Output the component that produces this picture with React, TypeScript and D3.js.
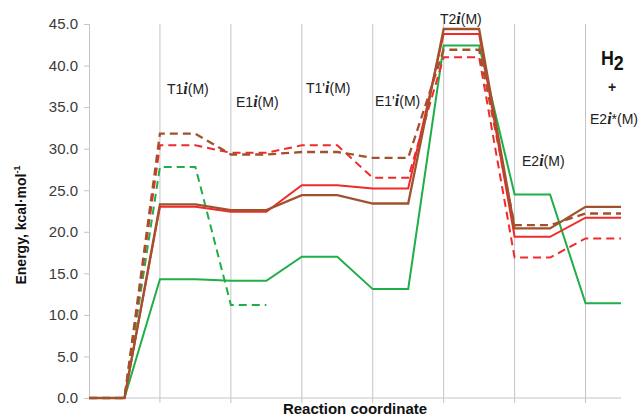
import * as d3 from 'd3';
import React, { useEffect, useRef } from 'react';

// reaction coordinate points (two per state: start / end of level)
const steps = [0, 1, 2, 3, 4, 5, 6, 7, 8, 9, 10, 11, 12, 13, 14, 15];
const yTicks = [0, 5, 10, 15, 20, 25, 30, 35, 40, 45];
const gridSteps = [2, 4, 6, 8, 10, 12, 14];

const brownSolid = [0, 0, 23.3, 23.3, 22.6, 22.6, 24.4, 24.4, 23.4, 23.4, 44.4, 44.4, 20.4, 20.4, 23.0, 23.0];
const redSolid = [0, 0, 23.0, 23.0, 22.4, 22.4, 25.6, 25.6, 25.2, 25.2, 43.8, 43.8, 19.4, 19.4, 21.7, 21.7];
const greenSolid = [0, 0, 14.3, 14.3, 14.1, 14.1, 17.0, 17.0, 13.1, 13.1, 42.4, 42.4, 24.5, 24.5, 11.4, 11.4];
const brownDashed = [0, 0, 31.8, 31.8, 29.3, 29.3, 29.6, 29.6, 28.9, 28.9, 41.9, 41.9, 20.8, 20.8, 22.2, 22.2];
const redDashed = [0, 0, 30.4, 30.4, 29.5, 29.5, 30.4, 30.4, 26.5, 26.5, 41.0, 41.0, 16.9, 16.9, 19.2, 19.2];
const greenDashed = [0, 0, 27.8, 27.8, 11.2, 11.2, null, null, null, null, null, null, null, null, null, null];

const series = [
  { name: 'greenSolid', values: greenSolid, color: '#1fae47', dash: null, width: 2 },
  { name: 'greenDashed', values: greenDashed, color: '#1fae47', dash: '8,5', width: 2 },
  { name: 'redDashed', values: redDashed, color: '#f02a2a', dash: '8,5', width: 2 },
  { name: 'brownDashed', values: brownDashed, color: '#a0522d', dash: '8,5', width: 2.3 },
  { name: 'redSolid', values: redSolid, color: '#f02a2a', dash: null, width: 2 },
  { name: 'brownSolid', values: brownSolid, color: '#a0522d', dash: null, width: 2.3 },
];

const stateLabels = [
  { pre: 'T1', post: '(M)', x: 167, y: 94 },
  { pre: 'E1', post: '(M)', x: 236, y: 107 },
  { pre: "T1'", post: '(M)', x: 306, y: 93 },
  { pre: "E1'", post: '(M)', x: 375, y: 106 },
  { pre: 'T2', post: '(M)', x: 440, y: 24 },
  { pre: 'E2', post: '(M)', x: 522, y: 166 },
  { pre: 'E2', post: '*(M)', x: 590, y: 124 },
];

const W = 641,
  H = 418;
const margin = { left: 89, right: 20, top: 24, bottom: 20 };

export default function App() {
  const ref = useRef<SVGSVGElement>(null);

  useEffect(() => {
    const svg = d3.select(ref.current);
    svg.selectAll('*').remove();

    const x = d3.scaleLinear().domain([0, 15]).range([margin.left, W - margin.right]);
    const y = d3.scaleLinear().domain([0, 45]).range([H - margin.bottom, margin.top]);
    const font = '"Liberation Sans", Arial, sans-serif';

    // vertical gridlines + x ticks
    svg
      .append('g')
      .selectAll('line')
      .data(gridSteps)
      .join('line')
      .attr('x1', (d) => x(d))
      .attr('x2', (d) => x(d))
      .attr('y1', y(45))
      .attr('y2', y(0) + 5)
      .attr('stroke', '#c4c4c4')
      .attr('stroke-width', 1);

    // y axis
    const yAxis = svg
      .append('g')
      .attr('transform', `translate(${x(0)},0)`)
      .call(d3.axisLeft(y).tickValues(yTicks).tickSize(5).tickPadding(6).tickFormat(d3.format('.1f')));
    yAxis.select('.domain').attr('stroke', '#c4c4c4');
    yAxis.selectAll('.tick line').attr('stroke', '#c4c4c4');
    yAxis
      .selectAll('.tick text')
      .attr('fill', '#3a3a3a')
      .attr('font-size', 15)
      .attr('font-family', font);

    // x axis line
    svg
      .append('line')
      .attr('x1', x(0))
      .attr('x2', x(15))
      .attr('y1', y(0))
      .attr('y2', y(0))
      .attr('stroke', '#c4c4c4');

    const line = d3
      .line<number | null>()
      .defined((d) => d !== null)
      .x((_, i) => x(steps[i]))
      .y((d) => y(d as number));

    svg
      .append('g')
      .selectAll('path')
      .data(series)
      .join('path')
      .attr('d', (s) => line(s.values))
      .attr('fill', 'none')
      .attr('stroke', (s) => s.color)
      .attr('stroke-width', (s) => s.width)
      .attr('stroke-dasharray', (s) => s.dash)
      .attr('stroke-linejoin', 'miter');

    // state labels
    const lbl = svg
      .append('g')
      .selectAll('text')
      .data(stateLabels)
      .join('text')
      .attr('x', (d) => d.x)
      .attr('y', (d) => d.y)
      .attr('font-size', 14)
      .attr('font-family', font)
      .attr('fill', '#222');
    lbl.append('tspan').text((d) => d.pre);
    lbl
      .append('tspan')
      .text('i')
      .attr('font-family', '"Liberation Serif", serif')
      .attr('font-style', 'italic')
      .attr('font-weight', 'bold')
      .attr('font-size', 16);
    lbl.append('tspan').text((d) => d.post);

    // H2 + label
    const h2 = svg
      .append('text')
      .attr('x', 601)
      .attr('y', 65)
      .attr('font-family', font)
      .attr('font-weight', 'bold')
      .attr('font-size', 21)
      .attr('fill', '#111')
      .attr('transform', 'translate(601,0) scale(0.85,1) translate(-601,0)');
    h2.append('tspan').text('H');
    h2.append('tspan').text('2').attr('dy', 5);
    svg
      .append('text')
      .attr('x', 612)
      .attr('y', 92)
      .attr('text-anchor', 'middle')
      .attr('font-family', font)
      .attr('font-size', 14)
      .attr('font-weight', 'bold')
      .attr('fill', '#222')
      .text('+');

    // axis titles
    svg
      .append('text')
      .attr('x', x(7.5))
      .attr('y', 414)
      .attr('text-anchor', 'middle')
      .attr('font-family', font)
      .attr('font-weight', 'bold')
      .attr('font-size', 15)
      .attr('fill', '#111')
      .text('Reaction coordinate');

    const yt = svg
      .append('text')
      .attr('transform', 'translate(26,225) rotate(-90)')
      .attr('text-anchor', 'middle')
      .attr('font-family', font)
      .attr('font-weight', 'bold')
      .attr('font-size', 14)
      .attr('fill', '#111');
    yt.append('tspan').text('Energy, kcal·mol');
    yt.append('tspan').text('-1').attr('font-size', 9).attr('dy', -6);
  }, []);

  return (
    <svg
      ref={ref}
      width={W}
      height={H}
      style={{ position: 'absolute', left: 0, top: 0, background: '#fff' }}
    />
  );
}
